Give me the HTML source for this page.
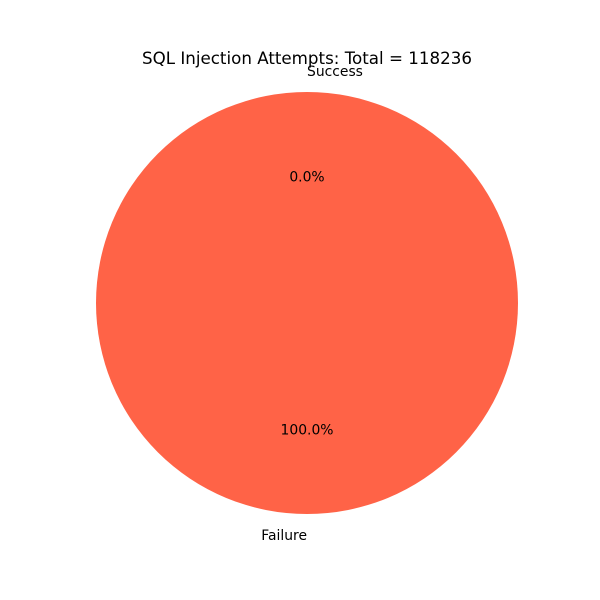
<!DOCTYPE html>
<html><head><meta charset="utf-8"><style>
html,body{margin:0;padding:0;background:#fff;}
svg{display:block;font-family:"DejaVu Sans","Liberation Sans",sans-serif;}
</style></head><body>
<svg id="chart" width="600" height="600" viewBox="0 0 600 600">
<rect width="600" height="600" fill="#fff"/>
<g id="slices"></g>
<g id="labels"></g>
<text x="307" y="64" font-size="16.7" text-anchor="middle" fill="#000">SQL Injection Attempts: Total = 118236</text>
</svg>
<script>
const categories = ["Success", "Failure"];
const values = [0, 118236];
const colors = ["#66b3ff", "#ff6347"];
const cx = 307, cy = 303, r = 211, startAngle = 90;
const g = document.getElementById('slices');
const lg = document.getElementById('labels');
const NS = "http://www.w3.org/2000/svg";
const total = values.reduce((a,b)=>a+b,0);
let a0 = startAngle;
function pt(deg, rr){const t=deg*Math.PI/180;return [cx+rr*Math.cos(t), cy-rr*Math.sin(t)];}
values.forEach((v,i)=>{
  const frac = total ? v/total : 0;
  const a1 = a0 + frac*360;
  let el;
  if (frac >= 0.9999) {
    el = document.createElementNS(NS,'circle');
    el.setAttribute('cx',cx);el.setAttribute('cy',cy);el.setAttribute('r',r);
  } else {
    el = document.createElementNS(NS,'path');
    const p0=pt(a0,r), p1=pt(a1,r);
    const large = (a1-a0)>180?1:0;
    el.setAttribute('d',`M${cx},${cy} L${p0[0]},${p0[1]} A${r},${r} 0 ${large} 0 ${p1[0]},${p1[1]} Z`);
  }
  el.setAttribute('fill',colors[i]);
  
  
  g.appendChild(el);
  const mid = (a0+a1)/2;
  const t = mid*Math.PI/180;
  const lx = cx + 1.1*r*Math.cos(t), ly = cy - 1.1*r*Math.sin(t);
  const lab = document.createElementNS(NS,'text');
  lab.setAttribute('x',lx);lab.setAttribute('y',ly+5);
  lab.setAttribute('font-size','13.9');
  lab.setAttribute('text-anchor', Math.cos(t) < -1e-9 || (Math.abs(Math.cos(t))<1e-9 && Math.sin(t)<0) ? 'end' : 'start');
  lab.textContent = categories[i];
  
  
  lg.appendChild(lab);
  const px = cx + 0.6*r*Math.cos(t), py = cy - 0.6*r*Math.sin(t);
  const pct = document.createElementNS(NS,'text');
  pct.setAttribute('x',px);pct.setAttribute('y',py+5);
  pct.setAttribute('font-size','13.9');pct.setAttribute('text-anchor','middle');
  pct.textContent = (frac*100).toFixed(1)+'%';
  
  
  lg.appendChild(pct);
  a0 = a1;
});
</script>
</body></html>
